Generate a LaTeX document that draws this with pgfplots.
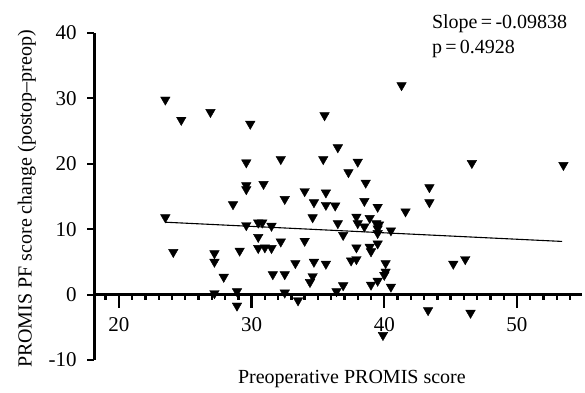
\documentclass[border=0pt]{standalone}
\usepackage{pgfplots}
\pgfplotsset{compat=1.18}
\usepackage{fontspec}
\setmainfont{Liberation Serif}
\begin{document}
\begin{tikzpicture}
\begin{axis}[
 scale only axis, width=487.5pt, height=327pt,
 xmin=18.16, xmax=54.9, ymin=-10, ymax=40,
 axis x line*=middle, axis y line*=left,
 hide obscured x ticks=false, hide obscured y ticks=false,
 xtick={20,30,40,50}, minor xtick={19,...,54}, ytick={-10,0,...,40},
 tick align=outside,
 x tick style={/pgfplots/major tick length=13pt, /pgfplots/minor tick length=5pt, line width=2.4pt, black},
 y tick style={/pgfplots/major tick length=7pt, line width=1.8pt, black},
 axis line style={line width=2.8pt, black},
 /pgf/number format/assume math mode=true,
 tick label style={font=\fontsize{21}{24}\selectfont},
 xticklabel style={yshift=-15pt},
 yticklabel style={xshift=-10pt},
 label style={font=\fontsize{20}{24}\selectfont},
 xlabel={Preoperative PROMIS score},
 xlabel style={at={(axis description cs:0.528,-0.058)}, anchor=center},
 ylabel={PROMIS PF score change (postop\textendash preop)},
 ylabel style={at={(axis description cs:-0.1385,0.492)}, anchor=center, rotate=0},
 clip=false,
]
\addplot[only marks, mark=triangle*, mark options={rotate=180, fill=black, draw=black}, mark size=5.5pt] coordinates {
(23.5,29.8) (24.7,26.7) (26.9,27.9) (29.9,26.1) (29.6,20.2) (32.2,20.7) (35.4,20.7) (35.5,27.4)
(36.5,22.5) (38.0,20.3) (37.3,18.7) (38.6,17.1) (41.3,32.0) (46.6,20.1) (53.5,19.8)
(29.6,16.7) (29.6,16.1) (30.9,16.9) (28.6,13.8) (32.5,14.6) (34.0,15.8) (34.7,14.1) (35.6,15.6)
(35.6,13.7) (36.3,13.6) (38.5,14.3) (39.5,13.4) (41.6,12.7) (43.4,16.4) (43.4,14.1)
(23.5,11.8) (24.1,6.5) (27.2,6.3) (27.2,5.0) (27.9,2.7) (27.2,0.2) (28.9,0.5) (28.9,-1.7)
(29.1,6.7) (29.6,10.6) (30.5,11.0) (30.8,11.0) (31.5,10.5) (30.5,8.8) (30.5,7.1) (31.0,7.2)
(31.5,7.1) (31.6,3.1) (32.2,8.1) (32.5,3.1) (32.5,0.3) (33.3,4.8) (33.5,-0.9) (34.0,8.2)
(34.6,11.8) (34.7,5.0) (35.6,4.7) (34.6,2.8) (34.4,1.9) (36.5,10.9) (36.9,9.1) (37.9,11.9)
(38.0,10.9) (38.9,11.7) (38.5,10.4) (39.4,10.9) (39.6,10.7) (39.5,10.1) (39.5,9.4) (40.5,9.8)
(39.5,7.8) (37.9,7.2) (38.9,7.3) (39.0,6.6) (37.9,5.4) (37.5,5.2) (40.1,4.8) (40.1,3.5)
(40.0,3.0) (36.9,1.4) (36.4,0.5) (39.0,1.5) (39.5,2.1) (40.5,1.2) (39.9,-6.2) (43.3,-2.4)
(45.2,4.7) (46.1,5.4) (46.5,-2.8)
};
\addplot[black, line width=1.1pt] coordinates {(23.5,11.07) (53.4,8.13)};
\node[anchor=north west, align=left, font=\fontsize{20}{25}\selectfont, inner sep=0pt] at (axis description cs:0.692,1.058) {Slope\,=\,-0.09838\\p\,=\,0.4928};
\coordinate (bl) at (axis description cs:-0.1938,-0.0979);
\coordinate (tr) at (axis description cs:1.00615,1.1009);
\end{axis}
\pgfresetboundingbox
\useasboundingbox (bl) rectangle (tr);
\end{tikzpicture}
\end{document}
